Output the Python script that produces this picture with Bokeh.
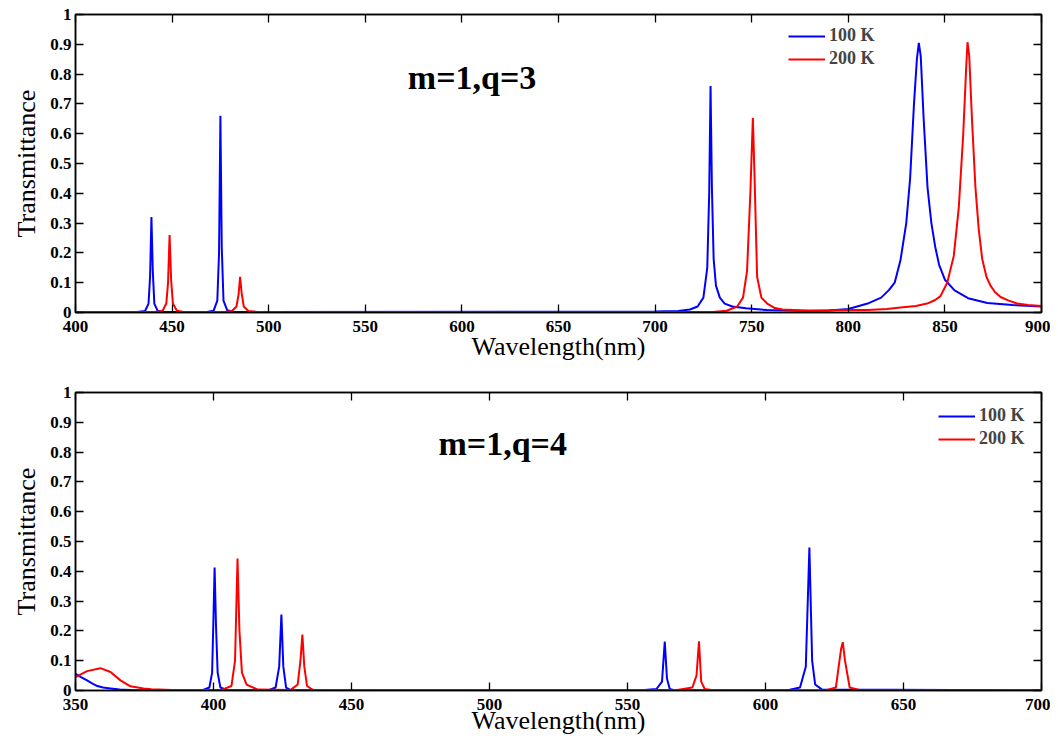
from bokeh.plotting import figure
from bokeh.models import Legend, LegendItem, LinearAxis, FixedTicker, Label, Range1d, ColumnDataSource
from bokeh.layouts import column
from bokeh.embed import file_html
from bokeh.resources import INLINE

# ---------------- data ----------------
# Panel 1: m=1, q=3
q3_wl_100 = [400, 432, 436, 437.8, 438.6, 439.3, 440.0, 440.8, 442.5, 446,
             468, 471.5, 473.4, 474.3, 475.0, 475.7, 476.6, 478.5, 482,
             700, 712, 718, 722, 725, 727, 728.0, 728.7, 729.4, 730.3, 731.5, 733.5,
             736, 740, 747, 758, 775, 790, 800, 810, 817, 821, 824, 827, 830, 832,
             834, 835.5, 836.5, 837.5, 839, 841, 843, 845, 847, 850, 855, 862, 872,
             885, 900]
q3_tr_100 = [0.002, 0.002, 0.005, 0.03, 0.12, 0.32, 0.14, 0.03, 0.006, 0.002,
             0.002, 0.006, 0.04, 0.2, 0.66, 0.22, 0.04, 0.008, 0.002,
             0.003, 0.005, 0.01, 0.02, 0.05, 0.15, 0.4, 0.76, 0.42, 0.18, 0.09, 0.05,
             0.03, 0.02, 0.014, 0.008, 0.006, 0.007, 0.012, 0.03, 0.05, 0.075, 0.1, 0.175, 0.3, 0.45,
             0.7, 0.85, 0.905, 0.86, 0.65, 0.42, 0.3, 0.22, 0.16, 0.11, 0.074, 0.048, 0.032,
             0.025, 0.02]
q3_wl_200 = [400, 441, 445, 447, 447.9, 448.7, 449.5, 450.4, 452.5, 456,
             477, 481, 483.3, 484.4, 485.2, 486.0, 487.1, 489.5, 494,
             730, 737, 742.5, 745.5, 747.6, 749.3, 750.6, 751.5, 752.8, 755, 758, 762, 766,
             780, 800, 810, 820, 827, 835, 840.8, 845, 847.7, 851.2, 854.6, 857.2, 859.5,
             861, 861.7, 862.6, 864, 865.8, 867.5, 869.3, 871.5, 873.6, 876, 878.8, 883,
             887.4, 893, 900]
q3_tr_200 = [0.002, 0.002, 0.005, 0.03, 0.1, 0.26, 0.11, 0.03, 0.006, 0.002,
             0.002, 0.005, 0.02, 0.06, 0.12, 0.065, 0.02, 0.005, 0.002,
             0.002, 0.006, 0.02, 0.05, 0.14, 0.4, 0.653, 0.45, 0.12, 0.05, 0.03, 0.015, 0.01,
             0.006, 0.008, 0.008, 0.012, 0.017, 0.022, 0.03, 0.042, 0.055, 0.1, 0.19, 0.353, 0.6,
             0.82, 0.907, 0.86, 0.65, 0.42, 0.28, 0.18, 0.12, 0.09, 0.068, 0.052, 0.04,
             0.03, 0.025, 0.022]

# Panel 2: m=1, q=4
q4_wl_100 = [350, 352, 354.2, 356, 357.9, 360, 362.7, 366, 370, 380,
             396, 398.5, 399.5, 400.0, 400.4, 400.9, 401.5, 402.5, 405,
             420, 422.5, 423.8, 424.6, 425.3, 426.3, 428,
             555, 560.5, 562.5, 563.5, 564.3, 565.3, 567,
             608, 612.5, 614.6, 615.9, 616.9, 618, 620.5, 700]
q4_tr_100 = [0.056, 0.045, 0.034, 0.024, 0.015, 0.01, 0.007, 0.003, 0.002, 0.001,
             0.001, 0.01, 0.06, 0.25, 0.413, 0.22, 0.06, 0.01, 0.001,
             0.001, 0.01, 0.08, 0.255, 0.08, 0.01, 0.001,
             0.001, 0.005, 0.03, 0.164, 0.04, 0.005, 0.001,
             0.001, 0.01, 0.08, 0.48, 0.1, 0.02, 0.003, 0.001]
q4_wl_200 = [350, 354.2, 359, 362.7, 366.3, 369.9, 374.7, 377.5, 385,
             403, 406.5, 407.8, 408.7, 409.4, 410.3, 412, 416,
             428, 430.5, 431.5, 432.2, 432.9, 433.9, 436,
             568, 573.5, 575, 575.9, 576.7, 578, 581,
             622, 625.5, 626.8, 627.4, 628.0, 628.8, 630.5, 634, 700]
q4_tr_200 = [0.045, 0.065, 0.075, 0.062, 0.034, 0.014, 0.007, 0.004, 0.002,
             0.002, 0.015, 0.1, 0.443, 0.2, 0.06, 0.02, 0.003,
             0.002, 0.02, 0.1, 0.188, 0.08, 0.015, 0.002,
             0.002, 0.01, 0.05, 0.165, 0.03, 0.005, 0.001,
             0.001, 0.01, 0.1, 0.14, 0.162, 0.1, 0.01, 0.002, 0.001]

series_labels = ["100 K", "200 K"]
series_colors = ["#0000ff", "#ff0000"]
y_ticks = [0, 0.1, 0.2, 0.3, 0.4, 0.5, 0.6, 0.7, 0.8, 0.9, 1]
x_ticks_q3 = [400, 450, 500, 550, 600, 650, 700, 750, 800, 850, 900]
x_ticks_q4 = [350, 400, 450, 500, 550, 600, 650, 700]

FONT = "Liberation Serif"


def style_axis(ax, labels=True):
    ax.axis_line_color = "black"
    ax.axis_line_width = 1.5
    ax.major_tick_line_color = "black"
    ax.major_tick_line_width = 1.3
    ax.major_tick_in = 8
    ax.major_tick_out = 0
    ax.minor_tick_line_color = None
    if labels:
        ax.major_label_text_font = FONT
        ax.major_label_text_font_style = "bold"
        ax.major_label_text_font_size = "17px"
        ax.major_label_text_color = "black"
        ax.axis_label_text_font = FONT
        ax.axis_label_text_font_style = "normal"
        ax.axis_label_text_font_size = "26px"
        ax.axis_label_text_color = "black"
    else:
        ax.major_label_text_font_size = "1px"
        ax.major_label_text_color = None
        ax.major_label_standoff = 0


def make_panel(xs, ys, x_lo, x_hi, x_ticks, title, title_x, title_y,
               height, top, bottom, legend_x, legend_y, xlabel_standoff):
    p = figure(width=1050, height=height, output_backend="svg", toolbar_location=None,
               x_range=Range1d(x_lo, x_hi), y_range=Range1d(0, 1),
               min_border_left=75, min_border_right=9,
               min_border_top=top, min_border_bottom=bottom)
    p.grid.visible = False
    p.outline_line_color = "black"
    p.outline_line_width = 1.5
    p.background_fill_color = "white"
    p.border_fill_color = "white"

    xa = p.xaxis[0]
    ya = p.yaxis[0]
    style_axis(xa)
    style_axis(ya)
    xa.ticker = FixedTicker(ticks=x_ticks)
    ya.ticker = FixedTicker(ticks=y_ticks)
    ya.major_label_overrides = {0: "0", 1: "1"}
    xa.axis_label = "Wavelength(nm)"
    ya.axis_label = "Transmittance"
    xa.major_label_standoff = 8
    ya.major_label_standoff = 4
    xa.axis_label_standoff = xlabel_standoff
    ya.axis_label_standoff = 6

    top_ax = LinearAxis(ticker=FixedTicker(ticks=x_ticks))
    right_ax = LinearAxis(ticker=FixedTicker(ticks=y_ticks))
    style_axis(top_ax, labels=False)
    style_axis(right_ax, labels=False)
    p.add_layout(top_ax, "above")
    p.add_layout(right_ax, "right")

    items = []
    for (wx, wy), lab, col in zip(zip(xs, ys), series_labels, series_colors):
        src = ColumnDataSource(dict(x=wx, y=wy))
        r = p.line("x", "y", source=src, line_color=col, line_width=2)
        items.append(LegendItem(label=lab, renderers=[r]))

    leg = Legend(items=items, location=(legend_x, legend_y))
    leg.border_line_alpha = 0
    leg.background_fill_alpha = 0
    leg.label_text_font = FONT
    leg.label_text_font_style = "bold"
    leg.label_text_font_size = "18px"
    leg.glyph_width = 37
    leg.glyph_height = 20
    leg.label_height = 20
    leg.spacing = 2
    leg.padding = 0
    leg.margin = 0
    leg.label_standoff = 4
    p.add_layout(leg)

    p.add_layout(Label(x=title_x, y=title_y, text=title, text_font=FONT,
                       text_font_style="bold", text_font_size="34px",
                       text_color="black", text_baseline="alphabetic"))
    return p


p1 = make_panel([q3_wl_100, q3_wl_200], [q3_tr_100, q3_tr_200], 400, 900, x_ticks_q3,
                "m=1,q=3", 572.0, 0.79, height=363, top=14, bottom=51,
                legend_x=713, legend_y=243, xlabel_standoff=-3)
p2 = make_panel([q4_wl_100, q4_wl_200], [q4_tr_100, q4_tr_200], 350, 700, x_ticks_q4,
                "m=1,q=4", 481.5, 0.83, height=374, top=29, bottom=47,
                legend_x=863, legend_y=241, xlabel_standoff=-7)

layout = column(p1, p2)
open("out.html", "w").write(file_html(layout, INLINE))
